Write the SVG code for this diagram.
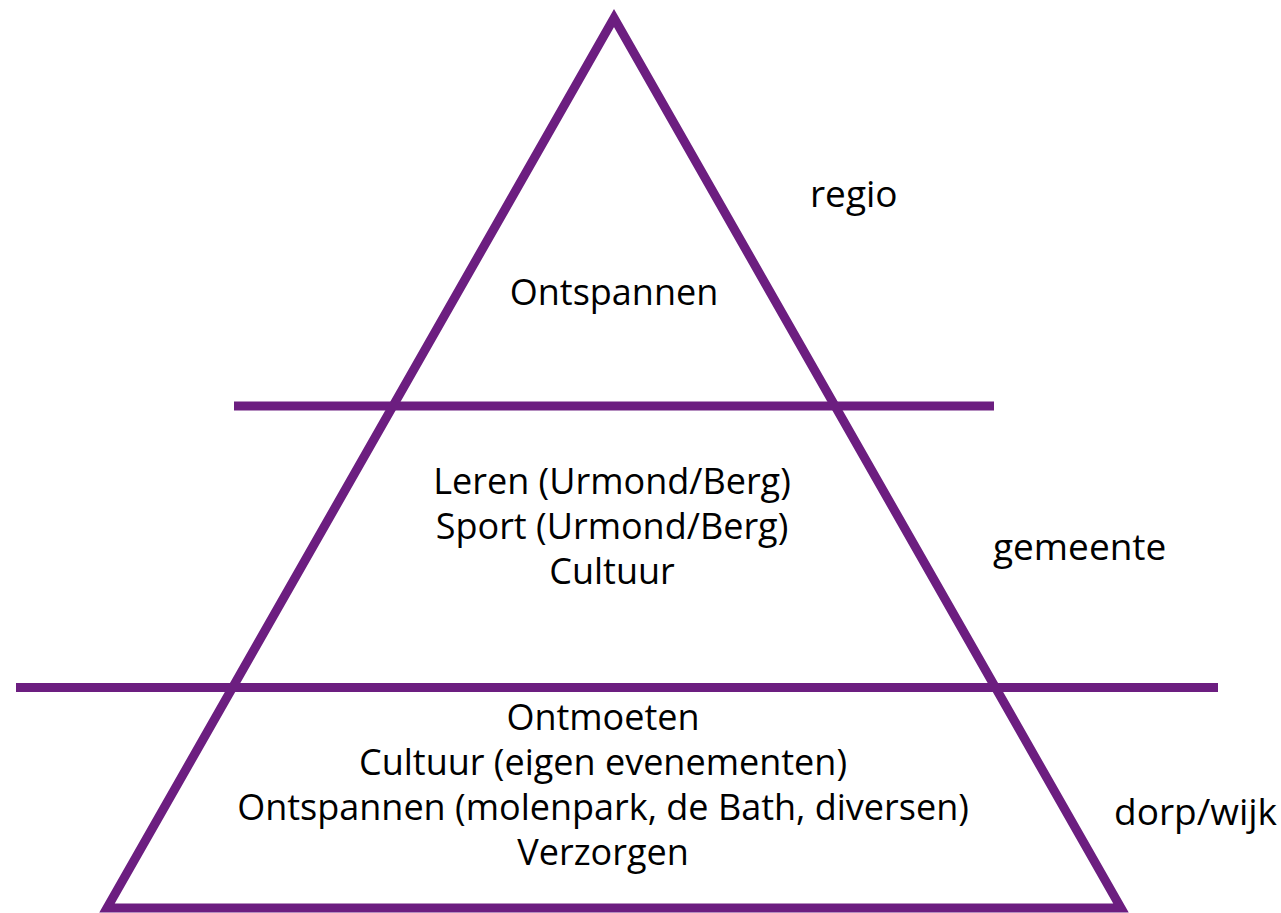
<svg xmlns="http://www.w3.org/2000/svg" width="1281" height="913" viewBox="0 0 1281 913">
<style>
.s{stroke:#6C1E80;stroke-width:9;fill:none}
.t{font-family:"Open Sans","Noto Sans",sans-serif;font-size:36px;fill:#000}
.r{font-size:37px}
.c{text-anchor:middle}
</style>
<rect width="1281" height="913" fill="#fff"/>
<g id="pyramid">
<polygon class="s" points="614,18 1121,908 107,908" stroke-miterlimit="10"/>
</g>
<g id="connectors">
<line class="s" x1="234" y1="406" x2="994" y2="406" stroke-width="8"/>
<line class="s" x1="16" y1="687.5" x2="1218" y2="687.5" stroke-width="8"/>
</g>
<g id="level-regio">
<text class="t c" x="614" y="305">Ontspannen</text>
<text class="t r" x="810" y="207">regio</text>
</g>
<g id="level-gemeente">
<text class="t c" x="612" y="494">Leren (Urmond/Berg)</text>
<text class="t c" x="612" y="539">Sport (Urmond/Berg)</text>
<text class="t c" x="612" y="584">Cultuur</text>
<text class="t r" x="993" y="560">gemeente</text>
</g>
<g id="level-dorp">
<text class="t c" x="603" y="730">Ontmoeten</text>
<text class="t c" x="603" y="775">Cultuur (eigen evenementen)</text>
<text class="t c" x="603" y="820">Ontspannen (molenpark, de Bath, diversen)</text>
<text class="t c" x="603" y="865">Verzorgen</text>
<text class="t r" x="1114" y="825">dorp/wijk</text>
</g>
</svg>
